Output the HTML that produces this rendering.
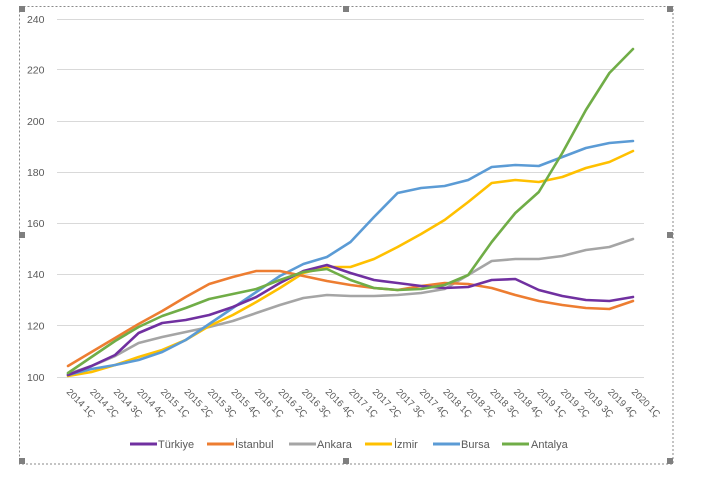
<!DOCTYPE html>
<html>
<head>
<meta charset="utf-8">
<style>
html,body{margin:0;padding:0;background:#fff;}
svg{display:block;}
text{font-family:"Liberation Sans","DejaVu Sans",sans-serif;fill:#595959;}
</style>
</head>
<body>
<svg width="714" height="481" viewBox="0 0 714 481" xmlns="http://www.w3.org/2000/svg">
<rect x="0" y="0" width="714" height="481" fill="#fff"/>
<!-- frame -->
<rect x="19.5" y="6.5" width="653.5" height="457.5" fill="none" stroke="#8a8a8a" stroke-width="1" stroke-dasharray="2,2"/>
<g fill="#7f7f7f">
<rect x="19" y="6" width="6" height="6"/>
<rect x="343" y="6" width="6" height="6"/>
<rect x="667" y="6" width="6" height="6"/>
<rect x="19" y="232" width="6" height="6"/>
<rect x="667" y="232" width="6" height="6"/>
<rect x="19" y="458" width="6" height="6"/>
<rect x="343" y="458" width="6" height="6"/>
<rect x="667" y="458" width="6" height="6"/>
</g>
<!-- gridlines -->
<g stroke="#d9d9d9" stroke-width="1">
<line x1="57" y1="19.5" x2="644" y2="19.5"/>
<line x1="57" y1="69.5" x2="644" y2="69.5"/>
<line x1="57" y1="121.5" x2="644" y2="121.5"/>
<line x1="57" y1="172.5" x2="644" y2="172.5"/>
<line x1="57" y1="223.5" x2="644" y2="223.5"/>
<line x1="57" y1="274.5" x2="644" y2="274.5"/>
<line x1="57" y1="325.5" x2="644" y2="325.5"/>
<line x1="57" y1="377.5" x2="644" y2="377.5"/>
</g>
<!-- y labels -->
<g font-size="10.5" text-anchor="end">
<text x="44.5" y="23">240</text>
<text x="44.5" y="73.5">220</text>
<text x="44.5" y="125">200</text>
<text x="44.5" y="176">180</text>
<text x="44.5" y="227">160</text>
<text x="44.5" y="278">140</text>
<text x="44.5" y="329.5">120</text>
<text x="44.5" y="381">100</text>
</g>
<!-- x labels -->
<g font-size="9.5">
<text transform="translate(66,392.5) rotate(45)">2014 1Ç</text>
<text transform="translate(89.5,392.5) rotate(45)">2014 2Ç</text>
<text transform="translate(113.1,392.5) rotate(45)">2014 3Ç</text>
<text transform="translate(136.6,392.5) rotate(45)">2014 4Ç</text>
<text transform="translate(160.2,392.5) rotate(45)">2015 1Ç</text>
<text transform="translate(183.7,392.5) rotate(45)">2015 2Ç</text>
<text transform="translate(207.2,392.5) rotate(45)">2015 3Ç</text>
<text transform="translate(230.8,392.5) rotate(45)">2015 4Ç</text>
<text transform="translate(254.3,392.5) rotate(45)">2016 1Ç</text>
<text transform="translate(277.9,392.5) rotate(45)">2016 2Ç</text>
<text transform="translate(301.4,392.5) rotate(45)">2016 3Ç</text>
<text transform="translate(324.9,392.5) rotate(45)">2016 4Ç</text>
<text transform="translate(348.5,392.5) rotate(45)">2017 1Ç</text>
<text transform="translate(372,392.5) rotate(45)">2017 2Ç</text>
<text transform="translate(395.6,392.5) rotate(45)">2017 3Ç</text>
<text transform="translate(419.1,392.5) rotate(45)">2017 4Ç</text>
<text transform="translate(442.6,392.5) rotate(45)">2018 1Ç</text>
<text transform="translate(466.2,392.5) rotate(45)">2018 2Ç</text>
<text transform="translate(489.7,392.5) rotate(45)">2018 3Ç</text>
<text transform="translate(513.3,392.5) rotate(45)">2018 4Ç</text>
<text transform="translate(536.8,392.5) rotate(45)">2019 1Ç</text>
<text transform="translate(560.3,392.5) rotate(45)">2019 2Ç</text>
<text transform="translate(583.9,392.5) rotate(45)">2019 3Ç</text>
<text transform="translate(607.4,392.5) rotate(45)">2019 4Ç</text>
<text transform="translate(631,392.5) rotate(45)">2020 1Ç</text>
</g>
<!-- series -->
<g fill="none" stroke-width="2.6" stroke-linejoin="round" stroke-linecap="round">
<!-- Ankara -->
<polyline stroke="#a5a5a5" points="68,374 91.5,366 115.1,356 138.6,343 162.2,337 185.7,332 209.2,327 232.8,321 256.3,313 279.9,305 303.4,298 326.9,295 350.5,296 374,296 397.6,295 421.1,293 444.6,289 468.2,275 491.7,261 515.3,259 538.8,259 562.3,256 585.9,250 609.4,247 633,239"/>
<!-- İzmir -->
<polyline stroke="#ffc000" points="68,376 91.5,372 115.1,365 138.6,357 162.2,350 185.7,340 209.2,326 232.8,315 256.3,302 279.9,288 303.4,273 326.9,267 350.5,267 374,259 397.6,247 421.1,234 444.6,220 468.2,202 491.7,183 515.3,180 538.8,182 562.3,177 585.9,168 609.4,162 633,151"/>
<!-- Bursa -->
<polyline stroke="#5b9bd5" points="68,375 91.5,369 115.1,365 138.6,360 162.2,352 185.7,340 209.2,324 232.8,308 256.3,292 279.9,276 303.4,264 326.9,257 350.5,242 374,217 397.6,193 421.1,188 444.6,186 468.2,180 491.7,167 515.3,165 538.8,166 562.3,157 585.9,148 609.4,143 633,141"/>
<!-- İstanbul -->
<polyline stroke="#ed7d31" points="68,366 91.5,352 115.1,338 138.6,324 162.2,311 185.7,297 209.2,284 232.8,277 256.3,271 279.9,271 303.4,276 326.9,281 350.5,285 374,288 397.6,290 421.1,286 444.6,283 468.2,284 491.7,288 515.3,295 538.8,301 562.3,305 585.9,308 609.4,309 633,301"/>
<!-- Türkiye -->
<polyline stroke="#7030a0" points="68,375 91.5,366 115.1,355 138.6,333 162.2,323 185.7,320 209.2,315 232.8,307 256.3,297 279.9,283 303.4,271 326.9,265 350.5,273 374,280 397.6,283 421.1,286 444.6,288 468.2,287 491.7,280 515.3,279 538.8,290 562.3,296 585.9,300 609.4,301 633,297"/>
<!-- Antalya -->
<polyline stroke="#70ad47" points="68,373 91.5,357 115.1,341 138.6,327 162.2,316 185.7,308 209.2,299 232.8,294 256.3,289 279.9,280 303.4,272 326.9,269 350.5,280 374,288 397.6,290 421.1,289 444.6,285 468.2,275 491.7,242 515.3,213 538.8,192 562.3,153 585.9,110 609.4,73 633,49"/>
</g>
<!-- legend -->
<g stroke-width="3" stroke-linecap="butt">
<line x1="130" y1="444" x2="157" y2="444" stroke="#7030a0"/>
<line x1="207" y1="444" x2="234" y2="444" stroke="#ed7d31"/>
<line x1="289" y1="444" x2="316" y2="444" stroke="#a5a5a5"/>
<line x1="365" y1="444" x2="392" y2="444" stroke="#ffc000"/>
<line x1="433" y1="444" x2="460" y2="444" stroke="#5b9bd5"/>
<line x1="502" y1="444" x2="529" y2="444" stroke="#70ad47"/>
</g>
<g font-size="11">
<text x="158" y="448">Türkiye</text>
<text x="235" y="448">İstanbul</text>
<text x="317" y="448">Ankara</text>
<text x="394" y="448">İzmir</text>
<text x="461" y="448">Bursa</text>
<text x="531" y="448">Antalya</text>
</g>
</svg>
</body>
</html>
